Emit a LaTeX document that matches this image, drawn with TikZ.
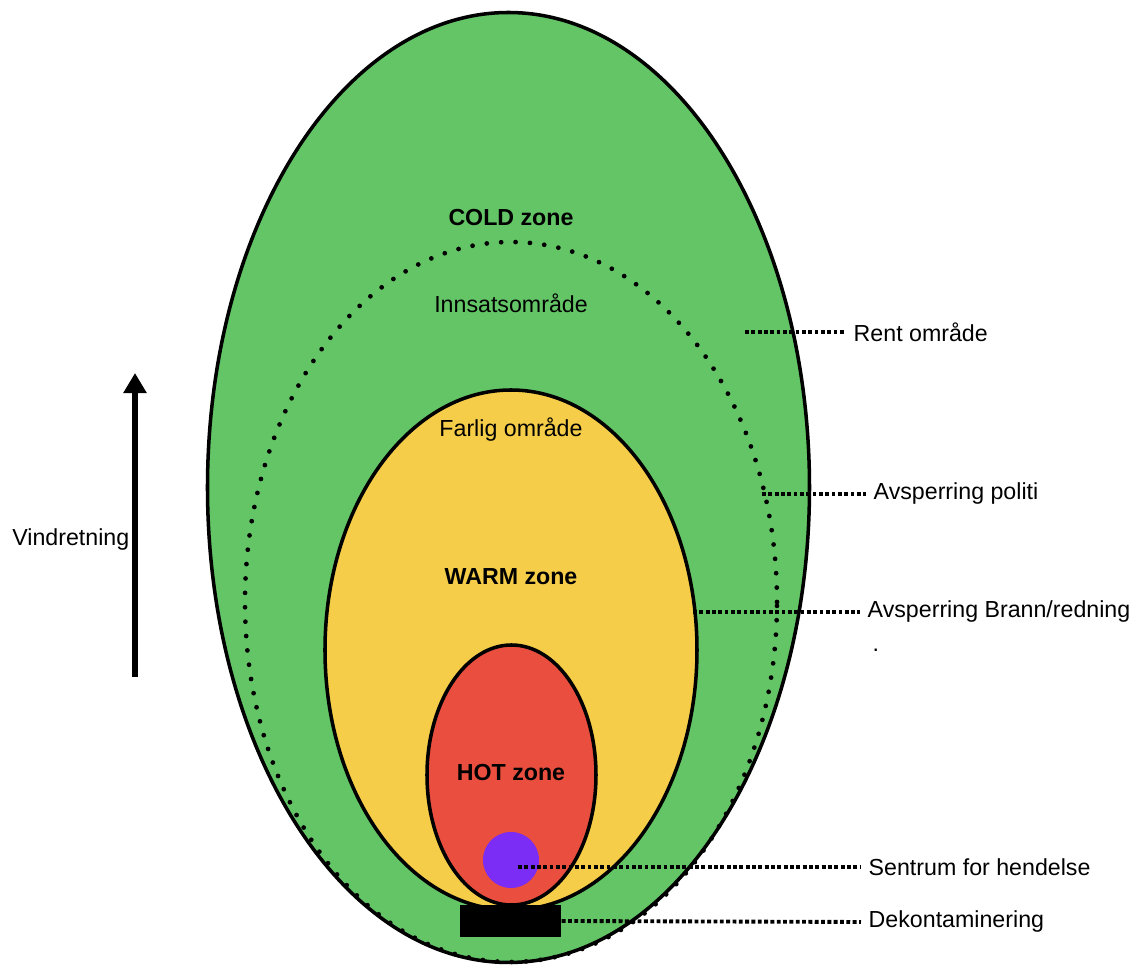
\documentclass[tikz,border=0pt]{standalone}
\usepackage{fontspec}
\setmainfont{Liberation Sans}
\usepackage{xcolor}
\usetikzlibrary{shapes, arrows.meta, positioning}

\definecolor{coldgreen}{HTML}{63C566}
\definecolor{warmyellow}{HTML}{F6CD49}
\definecolor{hotred}{HTML}{E94E3F}
\definecolor{centerpurple}{HTML}{7B2CF5}

\begin{document}
\begin{tikzpicture}[
    zone/.style={draw, ellipse, line width=1pt, inner sep=0pt},
    leader/.style={line width=1.1pt, dash pattern=on 1.1pt off 0.7pt},
    lbl/.style={anchor=west, inner sep=2pt, font=\fontsize{6.6}{8}\selectfont},
    zonetext/.style={font=\fontsize{6.6}{8}\selectfont}
  ]
  \useasboundingbox (0,0) rectangle (11.33,-9.65);

  % zones
  \node[zone, fill=coldgreen, minimum width=6.02cm, minimum height=9.5cm] at (5.085,-4.875) (cold) {};
  \draw[line width=1.35pt, line cap=round, dash pattern=on 0pt off 4.1pt] (5.11,-6.02) ellipse [x radius=2.66, y radius=3.6];
  \node[zone, fill=warmyellow, minimum width=3.72cm, minimum height=5.2cm] at (5.11,-6.5) (warm) {};
  \node[zone, fill=hotred, minimum width=1.69cm, minimum height=2.6cm] at (5.115,-7.75) (hot) {};
  \node[circle, fill=centerpurple, minimum size=0.56cm, inner sep=0pt] at (5.11,-8.6) (centre) {};
  \node[rectangle, fill=black, minimum width=1.01cm, minimum height=0.32cm, inner sep=0pt] at (5.105,-9.21) (decon) {};

  \node[zonetext] at (5.11,-2.18) (coldname) {\textbf{COLD zone}};
  \node[zonetext] at (5.11,-3.03) (effort) {Innsatsområde};
  \node[zonetext] at (5.11,-4.30) (danger) {Farlig område};
  \node[zonetext] at (5.11,-5.77) (warmname) {\textbf{WARM zone}};
  \node[zonetext] at (5.11,-7.73) (hotname) {\textbf{HOT zone}};

  % wind
  \coordinate (windlow) at (1.35,-6.77);
  \coordinate (windhigh) at (1.35,-3.73);
  \draw[line width=1.6pt, -{Triangle[width=6.3pt,length=5.7pt]}] (windlow) -- (windhigh);
  \node[zonetext, anchor=east, inner sep=0pt] at (1.30,-5.40) (wind) {Vindretning};

  % labels on the right
  \node[lbl] at (8.46,-3.32) (clean) {Rent område};
  \node[lbl] at (8.66,-4.94) (police) {Avsperring politi};
  \node[lbl] at (8.60,-6.12) (fire) {Avsperring Brann/redning};
  \node[lbl] at (8.65,-6.50) (stray) {.};
  \node[lbl] at (8.61,-8.67) (incident) {Sentrum for hendelse};
  \node[lbl] at (8.61,-9.22) (decontam) {Dekontaminering};

  \coordinate (cleanpt) at (7.45,-3.32);
  \coordinate (policept) at (7.62,-4.94);
  \coordinate (firept) at (6.93,-6.12);
  \coordinate (incidentpt) at (5.18,-8.67);

  \draw[leader] (cleanpt) -- (clean.west);
  \draw[leader] (policept) -- (police.west);
  \draw[leader] (firept) -- (fire.west);
  \draw[leader] (incidentpt) -- (incident.west);
  \draw[leader] (decon.east) -- (decontam.west);
\end{tikzpicture}
\end{document}
